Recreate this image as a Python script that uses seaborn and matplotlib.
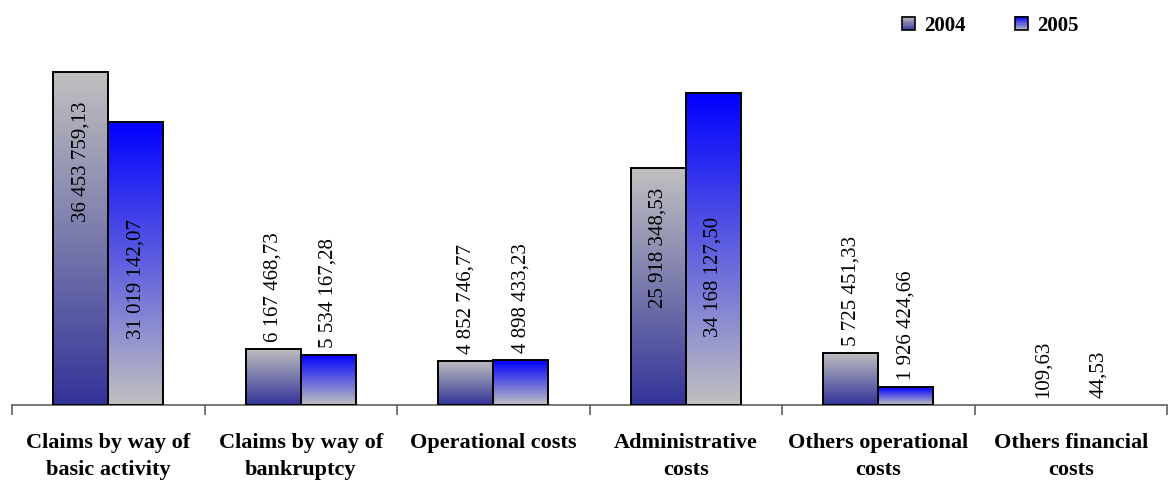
import numpy as np
import pandas as pd
import matplotlib
matplotlib.use("Agg")
import matplotlib.pyplot as plt
import seaborn as sns
from matplotlib.colors import to_rgb, LinearSegmentedColormap
from matplotlib.legend_handler import HandlerBase
from matplotlib.patches import Rectangle

# data
categories = ["Claims by way of\nbasic activity", "Claims by way of\nbankruptcy",
              "Operational costs", "Administrative\ncosts",
              "Others operational\ncosts", "Others financial\ncosts"]
years = ["2004", "2005"]
values_2004 = [36453759.13, 6167468.73, 4852746.77, 25918348.53, 5725451.33, 109.63]
values_2005 = [31019142.07, 5534167.28, 4898433.23, 34168127.50, 1926424.66, 44.53]

# gradient (top colour, bottom colour) per series
grad = {"2004": ("#c0c0c0", "#333399"), "2005": ("#0000ff", "#c0c0c0")}

# inside labels: centre of the text as a fraction of bar height
inside_pos = {("2004", 0): 0.73, ("2005", 0): 0.445, ("2004", 3): 0.665, ("2005", 3): 0.41}


def fmt(v):
    whole, dec = f"{v:.2f}".split(".")
    groups = []
    while len(whole) > 3:
        groups.insert(0, whole[-3:])
        whole = whole[:-3]
    groups.insert(0, whole)
    return " ".join(groups) + "," + dec


df = pd.DataFrame({
    "category": categories * 2,
    "year": ["2004"] * 6 + ["2005"] * 6,
    "value": values_2004 + values_2005,
})

sns.set_style("white")
plt.rcParams["font.family"] = ["Liberation Serif", "DejaVu Serif"]
plt.rcParams["text.color"] = "black"
plt.rcParams["xtick.labelcolor"] = "black"

fig = plt.figure(figsize=(11.68, 4.8), dpi=100)
ax = fig.add_axes([12 / 1168, 75 / 480, 1155 / 1168, 365 / 480])

sns.barplot(data=df, x="category", y="value", hue="year", palette=["#c0c0c0", "#0000ff"],
            width=0.57, edgecolor="black", linewidth=1.4, ax=ax, legend=False)

for year, cont in zip(years, ax.containers):
    top, bot = grad[year]
    cmap = LinearSegmentedColormap.from_list(year, [bot, top])
    for i, bar in enumerate(cont):
        x0, y0 = bar.get_x(), bar.get_y()
        w, h = bar.get_width(), bar.get_height()
        bar.set_facecolor("none")
        bar.set_zorder(3)
        if h > 1000:
            img = ax.imshow(np.linspace(0, 1, 256).reshape(-1, 1), cmap=cmap, origin="lower",
                            extent=[x0, x0 + w, y0, y0 + h], aspect="auto", zorder=2,
                            interpolation="bilinear")
            img.set_clip_path(bar)
        else:
            bar.set_linewidth(0)
        xc = x0 + w / 2
        if (year, i) in inside_pos:
            ax.text(xc, h * inside_pos[(year, i)], fmt(h), rotation=90, ha="center",
                    va="center", fontsize=15, color="black", zorder=4)
        else:
            ax.annotate(fmt(h), (xc, h), xytext=(0, 5), textcoords="offset points",
                        rotation=90, ha="center", va="bottom", fontsize=15, color="black",
                        zorder=4)

ax.set_xlim(-0.5, 5.5)
ax.set_ylim(0, 40e6)
ax.set_xlabel("")
ax.set_ylabel("")
ax.set_yticks([])
for s in ["top", "right", "left"]:
    ax.spines[s].set_visible(False)
ax.spines["bottom"].set_color("#606060")
ax.spines["bottom"].set_linewidth(1.2)
ax.set_xticks(range(6))
ax.set_xticklabels(categories, fontsize=16, fontweight="bold", linespacing=1.45)
ax.set_xticks(np.arange(-0.5, 6, 1), minor=True)
ax.tick_params(axis="x", which="major", length=0, pad=20)
ax.tick_params(axis="x", which="minor", length=7, width=1.2, color="#606060", bottom=True)


class GradHandler(HandlerBase):
    def __init__(self, top, bot):
        super().__init__()
        self.top, self.bot = to_rgb(top), to_rgb(bot)

    def create_artists(self, legend, orig, xd, yd, width, height, fontsize, trans):
        s = height * 1.0
        x = xd + (width - s) / 2 - xd * 2
        y = -yd
        arts = []
        n = 12
        for k in range(n):
            t = (k + 0.5) / n
            c = tuple(self.bot[j] + (self.top[j] - self.bot[j]) * t for j in range(3))
            arts.append(Rectangle((x, y + s * k / n), s, s / n + 0.3, facecolor=c,
                                  edgecolor="none", transform=trans))
        arts.append(Rectangle((x, y), s, s, facecolor="none", edgecolor="black",
                              linewidth=1.2, transform=trans))
        return arts


h04 = Rectangle((0, 0), 1, 1)
h05 = Rectangle((0, 0), 1, 1)
fig.legend([h04, h05], years, loc="upper right", bbox_to_anchor=(1097 / 1168, 1 + 3 / 480),
           ncol=2, frameon=False, handlelength=0.6, handleheight=0.6, handletextpad=0.45,
           columnspacing=2.35, prop={"weight": "bold", "size": 15},
           handler_map={h04: GradHandler(*grad["2004"]), h05: GradHandler(*grad["2005"])})

fig.savefig("out.png", dpi=100)
